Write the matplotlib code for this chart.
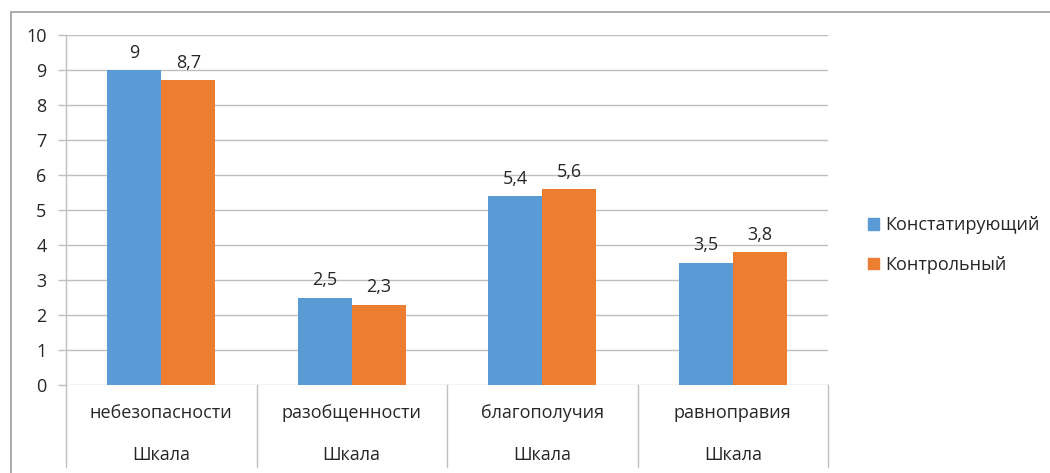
import numpy as np
import matplotlib.pyplot as plt
from matplotlib.lines import Line2D
from matplotlib.patches import Patch
import matplotlib.transforms as mtransforms

plt.rcParams['font.family'] = ['Open Sans', 'DejaVu Sans']

scales = ['небезопасности', 'разобщенности', 'благополучия', 'равноправия']
group_label = 'Шкала'
series_names = ['Констатирующий', 'Контрольный']
ascertaining = [9, 2.5, 5.4, 3.5]
control = [8.7, 2.3, 5.6, 3.8]
yticks = list(range(0, 11))

blue = '#5B9BD5'
orange = '#ED7D31'
grid_col = '#BFBFBF'
text_col = '#262626'
fs = 13

W, H = 1050, 473
fig = plt.figure(figsize=(W / 100, H / 100), dpi=100)
ax = fig.add_axes([66 / W, 1 - 385 / H, (828 - 66) / W, (385 - 35) / H])

x = np.arange(len(scales))
bw = 0.283
b1 = ax.bar(x - bw / 2, ascertaining, bw, color=blue, zorder=3)
b2 = ax.bar(x + bw / 2, control, bw, color=orange, zorder=3)

def fmt(v):
    return ('%g' % v).replace('.', ',')

for bars, vals in ((b1, ascertaining), (b2, control)):
    for r, v in zip(bars, vals):
        ax.annotate(fmt(v), (r.get_x() + r.get_width() / 2, v),
                    xytext=(0, 6), textcoords='offset points',
                    ha='center', va='bottom', fontsize=fs, color=text_col)

ax.set_xlim(-0.5, len(scales) - 0.5)
ax.set_ylim(0, 10)
ax.set_yticks(yticks)
ax.set_yticklabels([str(t) for t in yticks], fontsize=fs, color=text_col)
ax.tick_params(axis='y', length=6, width=1, color=grid_col, pad=8)
ax.set_xticks([])
ax.yaxis.grid(True, color=grid_col, linewidth=1, zorder=0)
for s in ax.spines.values():
    s.set_visible(False)

# category axis: separators and two label rows below the plot
trans = mtransforms.blended_transform_factory(ax.transData, ax.transAxes)
depth = (467 - 385) / (385 - 35)
for xs in np.arange(len(scales) + 1) - 0.5:
    ax.add_line(Line2D([xs, xs], [0, -depth], transform=trans, color=grid_col,
                       linewidth=1, clip_on=False))
ax.add_line(Line2D([-0.5, -0.5], [0, 1], transform=trans, color=grid_col,
                   linewidth=1, clip_on=False))
for xi, name in zip(x, scales):
    ax.text(xi, -(413 - 385) / 350, name, transform=trans, ha='center',
            va='center', fontsize=fs, color=text_col)
    ax.text(xi, -(455 - 385) / 350, group_label, transform=trans, ha='center',
            va='center', fontsize=fs, color=text_col)

# chart frame
fig.add_artist(Line2D([11 / W, 1], [1 - 12 / H, 1 - 12 / H], color='#A6A6A6', linewidth=1.3))
fig.add_artist(Line2D([11 / W, 11 / W], [0, 1 - 12 / H], color='#A6A6A6', linewidth=1.3))

handles = [Patch(color=blue), Patch(color=orange)]
fig.legend(handles, series_names, loc='center left',
           bbox_to_anchor=(852 / W, 1 - 245 / H), frameon=False, fontsize=fs,
           handlelength=0.6, handleheight=0.6, handletextpad=0.35,
           labelspacing=1.2, labelcolor=text_col)

fig.savefig('out.png', dpi=100, facecolor='white')
